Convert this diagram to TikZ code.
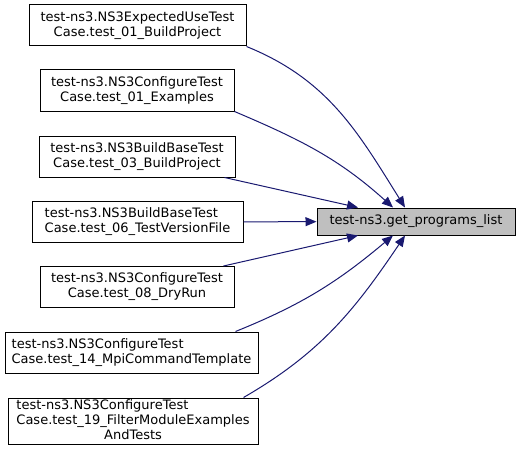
\documentclass[tikz,border=0pt]{standalone}
\usepackage{fontspec}
\setmainfont{DejaVu Sans}
\usetikzlibrary{arrows.meta}
\definecolor{edgeblue}{HTML}{191970}
\definecolor{calleegray}{HTML}{BFBFBF}

\begin{document}
\begin{tikzpicture}[x=1pt, y=1pt,
  caller/.style={draw=black, line width=1pt, align=center, inner sep=0pt,
    font=\fontsize{13}{15}\selectfont, minimum height=41pt},
  callee/.style={caller, fill=calleegray, minimum height=27pt},
  callarrow/.style={draw=edgeblue, line width=1pt, -{Triangle[length=11pt,width=9pt]}}
]
\useasboundingbox (0,0) rectangle (519,459);

\node[callee, minimum width=198pt] (getList) at (416,237.5) {test-ns3.get\_programs\_list};

\node[caller, minimum width=217pt] (expectBuild) at (137.5,433.5) {test-ns3.NS3ExpectedUseTest\\Case.test\_01\_BuildProject};
\node[caller, minimum width=194pt] (configExamples) at (137,368.5) {test-ns3.NS3ConfigureTest\\Case.test\_01\_Examples};
\node[caller, minimum width=196pt] (baseBuild) at (137,302.5) {test-ns3.NS3BuildBaseTest\\Case.test\_03\_BuildProject};
\node[caller, minimum width=211pt, align=left] (baseVersion) at (137.5,237) {test-ns3.NS3BuildBaseTest\\Case.test\_06\_TestVersionFile};
\node[caller, minimum width=194pt] (configDryRun) at (137,172) {test-ns3.NS3ConfigureTest\\Case.test\_08\_DryRun};
\node[caller, minimum width=253pt, align=left] (configMpi) at (131.5,106.5) {test-ns3.NS3ConfigureTest\\Case.test\_14\_MpiCommandTemplate};
\node[caller, minimum width=250pt, minimum height=46pt] (configFilter) at (133,38) {%
  \begin{tabular}{@{}l@{}}test-ns3.NS3ConfigureTest\\Case.test\_19\_FilterModuleExamples\\\multicolumn{1}{@{}c@{}}{AndTests}\end{tabular}};

% callers -> get_programs_list
\draw[callarrow] (expectBuild.south east) to[out=-22, in=122] ([xshift=-11pt]getList.north);
\draw[callarrow] (configExamples.south east) to[out=-23, in=138] ([xshift=-23pt]getList.north);
\draw[callarrow] ([xshift=-11pt]baseBuild.south east) -- ([xshift=-58pt]getList.north);
\draw[callarrow] (baseVersion) -- (getList);
\draw[callarrow] ([xshift=-11pt]configDryRun.north east) -- ([xshift=-58pt]getList.south);
\draw[callarrow] ([xshift=-23pt]configMpi.north east) to[out=22, in=-140] ([xshift=-23pt]getList.south);
\draw[callarrow] ([xshift=-15pt]configFilter.north east) to[out=30, in=-124] ([xshift=-11pt]getList.south);
\end{tikzpicture}
\end{document}
